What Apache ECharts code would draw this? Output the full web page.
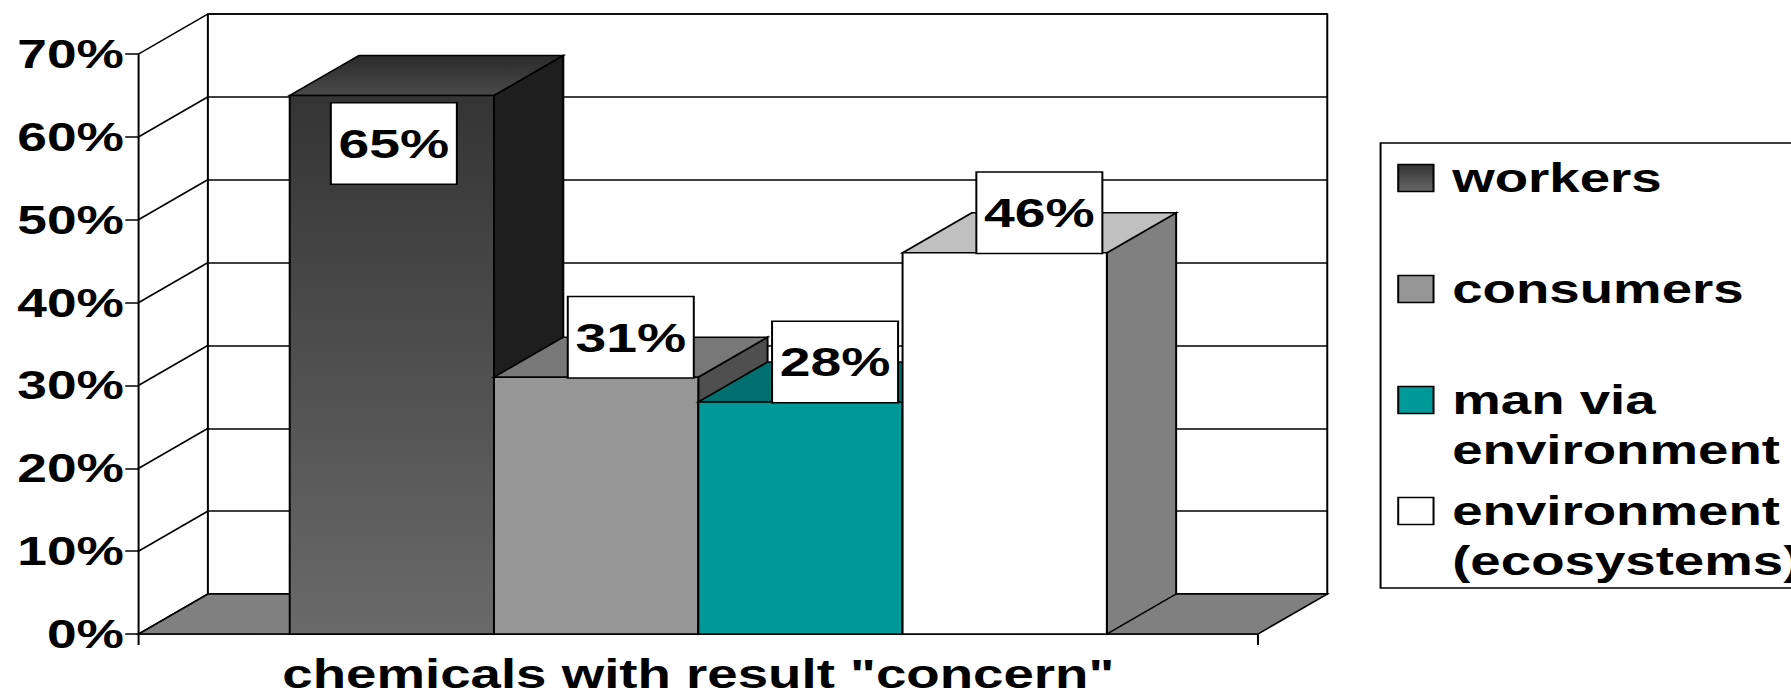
<!DOCTYPE html>
<html>
<head>
<meta charset="utf-8">
<script src="https://cdn.jsdelivr.net/npm/echarts/dist/echarts.min.js"></script>
<style>
html,body{margin:0;padding:0;background:#fff;overflow:hidden;}
#c{width:1344px;height:697px;transform:scaleX(1.33259);transform-origin:0 0;}
</style>
</head>
<body>
<div id="c"></div>
<script>
// ---- data ----
const categories = ['chemicals with result "concern"'];
const seriesNames = ['workers', 'consumers', 'man via environment', 'environment (ecosystems)'];
const legendLabels = ['workers', 'consumers', 'man via\nenvironment', 'environment\n(ecosystems)'];
const workers = [65];
const consumers = [31];
const manViaEnvironment = [28];
const environmentEco = [46];
const yTicks = [0, 10, 20, 30, 40, 50, 60, 70];
const yTickLabels = ['0%', '10%', '20%', '30%', '40%', '50%', '60%', '70%'];

// ---- styling / geometry constants ----
const FONT = '"Liberation Sans", Arial, Helvetica, sans-serif';
const DX = 52, DY = -40;      // oblique depth of the 3D effect
const GAP = 0.27;            // category gap fraction
const LW = 1.5;
function vgrad(c1, c2) {
  return {type: 'linear', x: 0, y: 0, x2: 0, y2: 1, colorStops: [{offset: 0, color: c1}, {offset: 1, color: c2}]};
}
const faceStyles = [
  {front: vgrad('#343434', '#6a6a6a'), top: vgrad('#2a2a2a', '#4a4a4a'), side: '#1e1e1e', legend: vgrad('#333333', '#666666')},
  {front: '#969696', top: '#787878', side: '#4f4f4f', legend: '#969696'},
  {front: '#009999', top: '#006f6f', side: '#005555', legend: '#009999'},
  {front: '#ffffff', top: '#c0c0c0', side: '#808080', legend: '#ffffff'}
];
const seriesValues = [workers, consumers, manViaEnvironment, environmentEco];
const lineStyle = {stroke: '#000', lineWidth: LW, lineJoin: 'miter'};

function barGeom(params, api, si) {
  const cat = api.value(0), v = api.value(1);
  const b = api.coord([cat, 0]), t = api.coord([cat, v]);
  const band = api.size([1, 0])[0];
  const bw = band * (1 - GAP) / seriesNames.length;
  const x0 = b[0] - band / 2 + band * GAP / 2 + si * bw;
  return {x0: x0, x1: x0 + bw, bw: bw, yb: b[1], yt: t[1]};
}

function makeBarRenderer(si) {
  return function (params, api) {
    const g = barGeom(params, api, si);
    const st = faceStyles[si];
    return {type: 'group', children: [
      {type: 'polygon', shape: {points: [[g.x1, g.yt], [g.x1 + DX, g.yt + DY], [g.x1 + DX, g.yb + DY], [g.x1, g.yb]]},
        style: Object.assign({fill: st.side}, lineStyle)},
      {type: 'polygon', shape: {points: [[g.x0, g.yt], [g.x1, g.yt], [g.x1 + DX, g.yt + DY], [g.x0 + DX, g.yt + DY]]},
        style: Object.assign({fill: st.top}, lineStyle)},
      {type: 'rect', shape: {x: g.x0, y: g.yt, width: g.bw, height: g.yb - g.yt},
        style: Object.assign({fill: st.front}, lineStyle)}
    ]};
  };
}

const LABEL_H = 80;
function labelRenderer(params, api) {
  const si = api.value(2);
  const g = barGeom(params, api, si);
  const inside = (g.yt - LABEL_H) < params.coordSys.y;
  const cx = inside ? g.x0 + g.bw / 2 + 1.5 : g.x0 + g.bw / 2 + DX / 2;
  return {
    type: 'text',
    x: cx,
    y: inside ? g.yt + 8 : g.yt,
    style: {
      text: api.value(1) + '%',
      font: 'bold 41.5px ' + FONT,
      fill: '#000',
      align: 'center',
      verticalAlign: inside ? 'top' : 'bottom',
      lineHeight: 40,
      backgroundColor: '#fff',
      borderColor: '#000',
      borderWidth: LW,
      padding: [20, 5, 20, 5]
    }
  };
}

const series = [];
// floor
series.push({
  type: 'custom', name: 'floor', xAxisIndex: 0, yAxisIndex: 0, z: 1, silent: true,
  data: [[0, 0]],
  renderItem: function (params, api) {
    const cs = params.coordSys;
    const y0 = api.coord([0, 0])[1];
    return {type: 'polygon', shape: {points: [[cs.x, y0], [cs.x + cs.width, y0], [cs.x + cs.width + DX, y0 + DY], [cs.x + DX, y0 + DY]]},
      style: Object.assign({fill: '#808080'}, lineStyle)};
  }
});
// side wall diagonals
series.push({
  type: 'custom', name: 'wall', xAxisIndex: 0, yAxisIndex: 0, z: 1, silent: true,
  data: yTicks.map(function (v) { return [0, v]; }),
  renderItem: function (params, api) {
    const cs = params.coordSys;
    const y = api.coord([0, api.value(1)])[1];
    return {type: 'line', shape: {x1: cs.x, y1: y, x2: cs.x + DX, y2: y + DY}, style: {stroke: '#000', lineWidth: LW}};
  }
});
// bars
seriesNames.forEach(function (name, si) {
  series.push({
    type: 'custom', name: name, xAxisIndex: 0, yAxisIndex: 0, z: 2 + si, silent: true,
    itemStyle: {color: faceStyles[si].legend, borderColor: '#000', borderWidth: LW},
    data: seriesValues[si].map(function (v, i) { return [i, v]; }),
    renderItem: makeBarRenderer(si)
  });
});
// data labels
const labelData = [];
seriesValues.forEach(function (vals, si) { vals.forEach(function (v, i) { labelData.push([i, v, si]); }); });
series.push({
  type: 'custom', name: 'labels', xAxisIndex: 0, yAxisIndex: 0, z: 20, silent: true,
  data: labelData, renderItem: labelRenderer
});

// one legend block per entry; for two-line entries the swatch sits in the top part
// of a taller icon box, so it lines up with the first text line
const LEG_TOP = 178, LEG_STEP = 111, LINE_H = 50, SW_W = 26.5, SW_H = 27;
const TALL_H = SW_H + LINE_H;
const tallIcon = 'path://M0,0L' + SW_W + ',0L' + SW_W + ',' + SW_H + 'L0,' + SW_H + 'ZM0,' + TALL_H + 'L0,' + TALL_H;
const legends = seriesNames.map(function (name, i) {
  const label = legendLabels[i];
  const multi = label.indexOf('\n') >= 0;
  return {
    data: [name], orient: 'vertical', left: 1048.5,
    top: LEG_TOP + i * LEG_STEP - LINE_H / 2,
    padding: 0, icon: multi ? tallIcon : 'rect', itemWidth: SW_W, itemHeight: multi ? TALL_H : SW_H,
    selectedMode: false,
    itemStyle: {borderColor: '#000', borderWidth: LW},
    textStyle: {fontFamily: FONT, fontWeight: 'bold', fontSize: 41, color: '#000', lineHeight: LINE_H, padding: [0, 0, 0, 9]},
    formatter: function () { return label; }
  };
});

const chart = echarts.init(document.getElementById('c'), null, {renderer: 'svg'});
chart.setOption({
  animation: false,
  backgroundColor: '#fff',
  textStyle: {fontFamily: FONT},
  grid: [
    {left: 104, top: 54, width: 840, height: 580, containLabel: false},
    {left: 104 + DX, top: 54 + DY, width: 840, height: 580, containLabel: false,
      show: true, backgroundColor: '#fff', borderColor: '#000', borderWidth: LW}
  ],
  xAxis: [
    {type: 'category', gridIndex: 0, data: categories,
      axisLine: {show: true, lineStyle: {color: '#000', width: LW}},
      axisTick: {show: true, length: 11, lineStyle: {color: '#000', width: LW}},
      axisLabel: {show: true, margin: 25, lineHeight: 30, color: '#000', fontFamily: FONT, fontWeight: 'bold', fontSize: 41},
      splitLine: {show: false}},
    {type: 'category', gridIndex: 1, data: categories, show: false}
  ],
  yAxis: [
    {type: 'value', gridIndex: 0, min: 0, max: 70, interval: 10,
      axisLine: {show: true, lineStyle: {color: '#000', width: LW}},
      axisTick: {show: true, length: 10, lineStyle: {color: '#000', width: LW}},
      splitLine: {show: false},
      axisLabel: {margin: 11, color: '#000', fontFamily: FONT, fontWeight: 'bold', fontSize: 40,
        formatter: function (v) { const i = yTicks.indexOf(v); return i >= 0 ? yTickLabels[i] : ''; }}},
    {type: 'value', gridIndex: 1, min: 0, max: 70, interval: 10,
      axisLine: {show: false}, axisTick: {show: false}, axisLabel: {show: false},
      splitLine: {show: true, lineStyle: {color: '#000', width: LW}}}
  ],
  legend: legends,
  graphic: [
    {type: 'rect', z: 0, silent: true, shape: {x: 1036, y: 143, width: 420, height: 445},
      style: {fill: '#fff', stroke: '#000', lineWidth: LW}}
  ],
  series: series
});
</script>
</body>
</html>
